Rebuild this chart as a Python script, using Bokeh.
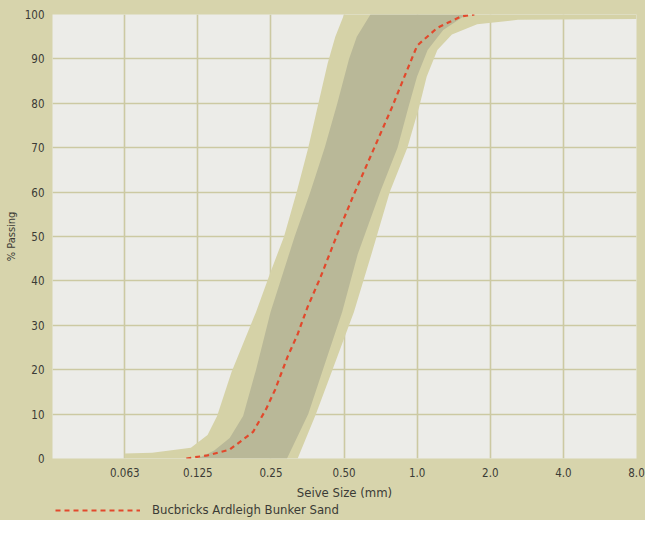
import json
from bokeh.plotting import figure
from bokeh.layouts import column
from bokeh.models import Range1d, FixedTicker, CustomJSTickFormatter, Legend, LegendItem
from bokeh.embed import file_html
from bokeh.resources import INLINE

# ---- axis ticks / labels ----
x_ticks = [0.0625, 0.125, 0.25, 0.5, 1.0, 2.0, 4.0, 8.0]
x_labels = ["0.063", "0.125", "0.25", "0.50", "1.0", "2.0", "4.0", "8.0"]
y_ticks = [0, 10, 20, 30, 40, 50, 60, 70, 80, 90, 100]

# ---- outer (light) grading envelope ----
outer_fine_size = [0.0625, 0.081, 0.117, 0.137, 0.150, 0.172, 0.217, 0.249, 0.283, 0.319, 0.356, 0.392, 0.428, 0.460, 0.500]
outer_fine_pct = [1.1, 1.3, 2.4, 5.3, 9.6, 19.5, 33, 42, 50, 60, 70, 80, 89, 95, 100]
outer_coarse_size = [0.322, 0.383, 0.448, 0.549, 0.648, 0.771, 0.911, 1.017, 1.094, 1.211, 1.39, 1.766, 2.60, 8.0]
outer_coarse_pct = [0, 10, 20, 33, 46, 60, 70, 79, 86, 92, 95.5, 97.8, 98.8, 99]

# ---- inner (dark) grading envelope ----
inner_fine_size = [0.125, 0.146, 0.169, 0.192, 0.217, 0.249, 0.313, 0.363, 0.416, 0.469, 0.524, 0.564, 0.642]
inner_fine_pct = [0, 1.8, 4.6, 9.6, 20, 33, 50, 60, 70, 80, 90, 95, 100]
inner_coarse_size = [0.291, 0.356, 0.409, 0.491, 0.569, 0.704, 0.830, 0.919, 0.998, 1.104, 1.28, 1.596]
inner_coarse_pct = [0, 10, 20, 33, 46, 60, 70, 79, 86, 92, 96.5, 100]

# ---- Bucbricks Ardleigh Bunker Sand grading ----
sand_size = [0.112, 0.137, 0.169, 0.211, 0.238, 0.260, 0.293, 0.322, 0.353, 0.401, 0.465, 0.544, 0.654, 0.786, 0.886, 1.0, 1.21, 1.52, 1.72]
sand_pct = [0, 0.7, 2, 6, 11, 15.5, 23, 28, 34, 41, 50, 59, 69, 79, 86, 93, 97, 99.6, 100]
legend_label = "Bucbricks Ardleigh Bunker Sand"

FONT = "'DejaVu Sans Condensed', 'Liberation Sans Narrow', 'Liberation Sans', sans-serif"
TEXT = "#3b3b36"
PAGE_BG = "#d7d4ac"
LIGHT = "#d5d2a7"
DARK = "#b9b898"
GRID = "#ccc9a2"
RED = "#e2492c"
W = 645

p = figure(width=W, height=502, x_axis_type="log",
           x_range=Range1d(0.0315, 8.0), y_range=Range1d(0, 100),
           output_backend="svg", toolbar_location=None,
           min_border_left=52, min_border_right=9, min_border_top=14, min_border_bottom=44)

p.background_fill_color = "#ecece8"
p.border_fill_color = PAGE_BG
p.outline_line_color = None

# envelopes
outer_x = [x_ticks[0]] + outer_fine_size + [outer_coarse_size[-1]] + outer_coarse_size[::-1]
outer_y = [0] + outer_fine_pct + [100] + outer_coarse_pct[::-1]
p.patch(outer_x, outer_y, fill_color=LIGHT, line_color=None)

inner_x = inner_fine_size + inner_coarse_size[::-1]
inner_y = inner_fine_pct + inner_coarse_pct[::-1]
p.patch(inner_x, inner_y, fill_color=DARK, line_color=None)

sand_style = dict(line_color=RED, line_width=2.2, line_dash="5 4")
p.line(sand_size, sand_pct, **sand_style)

# axes
ticker = FixedTicker(ticks=x_ticks)
p.xaxis.ticker = ticker
p.xgrid.ticker = ticker
code = ("const t = %s; const l = %s;"
        "const i = t.findIndex(v => Math.abs(v - tick) < 1e-6);"
        "return i >= 0 ? l[i] : '';") % (json.dumps(x_ticks), json.dumps(x_labels))
p.xaxis.formatter = CustomJSTickFormatter(code=code)
p.yaxis.ticker = FixedTicker(ticks=y_ticks)

for ax in (p.xaxis, p.yaxis):
    ax.axis_line_color = None
    ax.major_tick_line_color = None
    ax.minor_tick_line_color = None
    ax.major_tick_out = 0
    ax.major_tick_in = 0
    ax.minor_tick_out = 0
    ax.minor_tick_in = 0
    ax.major_label_text_font = FONT
    ax.major_label_text_font_size = "11.5px"
    ax.major_label_text_color = TEXT
    ax.axis_label_text_font = FONT
    ax.axis_label_text_font_style = "normal"
    ax.axis_label_text_color = TEXT

p.xaxis.axis_label = "Seive Size (mm)"
p.xaxis.axis_label_text_font_size = "13px"
p.xaxis.major_label_standoff = 9
p.xaxis.axis_label_standoff = 5
p.yaxis.axis_label = "% Passing"
p.yaxis.axis_label_text_font_size = "11px"
p.yaxis.major_label_standoff = 8
p.yaxis.axis_label_standoff = 4

for g in (p.xgrid, p.ygrid):
    g.grid_line_color = GRID
    g.grid_line_width = 1.6

# legend strip below the chart (its key line uses the same data, kept out of view)
lg = figure(width=W, height=18, x_range=Range1d(-2, -1), y_range=Range1d(-2, -1),
            output_backend="svg", toolbar_location=None,
            x_axis_location=None, y_axis_location=None, min_border=0)
lg.grid.visible = False
lg.outline_line_color = None
lg.background_fill_color = None
lg.border_fill_color = None
key = lg.line(sand_size, sand_pct, **sand_style)
legend = Legend(items=[LegendItem(label=legend_label, renderers=[key])],
                location=(0, 0), orientation="horizontal",
                glyph_width=85, glyph_height=12, label_standoff=12,
                label_text_font=FONT, label_text_font_size="13px", label_text_color=TEXT,
                padding=3, margin=0, spacing=0,
                background_fill_alpha=0, border_line_alpha=0)
lg.add_layout(legend)

layout = column(p, lg, spacing=0, styles={"background-color": PAGE_BG})
open("out.html", "w").write(file_html(layout, INLINE))
